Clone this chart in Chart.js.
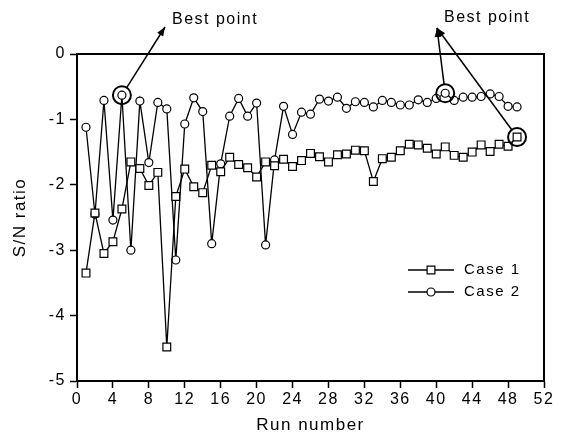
<!DOCTYPE html>
<html>
<head>
<meta charset="utf-8">
<script src="https://cdn.jsdelivr.net/npm/chart.js@4.4.1/dist/chart.umd.min.js"></script>
<style>
    html, body { margin: 0; padding: 0; background: #fff; }
    #wrap { width: 568px; height: 442px; }
</style>
</head>
<body>
<div id="wrap"><canvas id="snChart" width="568" height="442"></canvas></div>
<script>
// Run numbers on the x axis
const runs = [1, 2, 3, 4, 5, 6, 7, 8, 9, 10, 11, 12, 13, 14, 15, 16, 17, 18, 19, 20,
    21, 22, 23, 24, 25, 26, 27, 28, 29, 30, 31, 32, 33, 34, 35, 36, 37, 38, 39, 40,
    41, 42, 43, 44, 45, 46, 47, 48, 49];

// S/N ratio, Case 1 (squares)
const case1 = [-3.35, -2.43, -3.05, -2.87, -2.37, -1.65, -1.75, -2.01, -1.81, -4.48,
    -2.18, -1.76, -2.03, -2.12, -1.70, -1.80, -1.58, -1.69, -1.74, -1.88,
    -1.65, -1.71, -1.61, -1.72, -1.63, -1.52, -1.57, -1.65, -1.54, -1.53,
    -1.47, -1.48, -1.95, -1.60, -1.58, -1.48, -1.38, -1.39, -1.44, -1.53,
    -1.42, -1.55, -1.58, -1.50, -1.39, -1.49, -1.38, -1.41, -1.27];

// S/N ratio, Case 2 (circles)
const case2 = [-1.12, -2.45, -0.71, -2.54, -0.63, -3.00, -0.72, -1.66, -0.74, -0.84,
    -3.15, -1.07, -0.67, -0.88, -2.90, -1.68, -0.95, -0.68, -0.95, -0.75,
    -2.92, -1.62, -0.80, -1.23, -0.89, -0.92, -0.69, -0.72, -0.66, -0.83,
    -0.73, -0.74, -0.81, -0.71, -0.74, -0.78, -0.78, -0.70, -0.74, -0.68,
    -0.60, -0.71, -0.66, -0.66, -0.65, -0.61, -0.65, -0.80, -0.81];

const seriesNames = ['Case 1', 'Case 2'];
const xTicks = [0, 4, 8, 12, 16, 20, 24, 28, 32, 36, 40, 44, 48, 52];
const yTicks = [-5, -4, -3, -2, -1, 0];

// highlighted "best" points: [series index, run]
const bestPoints = [[1, 5], [1, 41], [0, 49]];

const FONT = '"Liberation Sans", Arial, Helvetica, sans-serif';
const INK = '#000';

function toXY(values) {
    return runs.map((r, i) => ({ x: r, y: values[i] }));
}

// keep the wide, typewriter-ish spacing of the original lettering
const spacingPlugin = {
    id: 'spacing',
    beforeUpdate(chart) { chart.ctx.letterSpacing = '1.5px'; },
    beforeDraw(chart) { chart.ctx.letterSpacing = '1.5px'; }
};

const framePlugin = {
    id: 'frame',
    afterDatasetsDraw(chart) {
        const { ctx, chartArea: a } = chart;
        ctx.save();
        ctx.strokeStyle = INK;
        ctx.lineWidth = 2;
        ctx.strokeRect(a.left, a.top, a.right - a.left, a.bottom - a.top);
        ctx.restore();
    }
};

function arrow(ctx, x0, y0, x1, y1) {
    const ang = Math.atan2(y1 - y0, x1 - x0);
    ctx.beginPath();
    ctx.moveTo(x0, y0);
    ctx.lineTo(x1, y1);
    ctx.stroke();
    const L = 9, W = 3.5;
    ctx.beginPath();
    ctx.moveTo(x1, y1);
    ctx.lineTo(x1 - L * Math.cos(ang) + W * Math.sin(ang), y1 - L * Math.sin(ang) - W * Math.cos(ang));
    ctx.lineTo(x1 - L * Math.cos(ang) - W * Math.sin(ang), y1 - L * Math.sin(ang) + W * Math.cos(ang));
    ctx.closePath();
    ctx.fill();
}

const bestPlugin = {
    id: 'best',
    afterDatasetsDraw(chart) {
        const { ctx } = chart;
        const xs = chart.scales.x, ys = chart.scales.y;
        const series = [case1, case2];
        const rings = bestPoints.map(([s, run]) => ({
            x: xs.getPixelForValue(run),
            y: ys.getPixelForValue(series[s][runs.indexOf(run)]),
            r: 9
        }));
        ctx.save();
        ctx.strokeStyle = INK;
        ctx.fillStyle = INK;
        ctx.lineWidth = 2;
        rings.forEach(p => {
            ctx.beginPath();
            ctx.arc(p.x, p.y, p.r, 0, Math.PI * 2);
            ctx.stroke();
        });

        ctx.font = '16px ' + FONT;
        ctx.textAlign = 'left';
        ctx.textBaseline = 'middle';
        ctx.fillText('Best point', 172, 20);
        ctx.fillText('Best point', 444, 18);

        ctx.lineWidth = 1.5;
        const tips = [[165, 27], [437, 28], [437, 28]];
        rings.forEach((p, i) => {
            const [tx, ty] = tips[i];
            const d = Math.hypot(tx - p.x, ty - p.y);
            const sx = p.x + (tx - p.x) / d * p.r;
            const sy = p.y + (ty - p.y) / d * p.r;
            arrow(ctx, sx, sy, tx, ty);
        });
        ctx.restore();
    }
};

const legendPlugin = {
    id: 'boxLegend',
    afterDatasetsDraw(chart) {
        const { ctx } = chart;
        const rows = [[408, 270], [408, 292]];
        ctx.save();
        chart.data.datasets.forEach((ds, i) => {
            const [lx, ly] = rows[i];
            ctx.strokeStyle = INK;
            ctx.lineWidth = 1.3;
            ctx.beginPath();
            ctx.moveTo(lx, ly);
            ctx.lineTo(lx + 46, ly);
            ctx.stroke();
            ctx.fillStyle = '#fff';
            ctx.lineWidth = 1.2;
            Chart.helpers.drawPoint(ctx, {
                pointStyle: ds.pointStyle,
                radius: ds.pointRadius,
                borderWidth: 1.2
            }, lx + 23, ly);
            ctx.fillStyle = INK;
            ctx.font = '15px ' + FONT;
            ctx.textAlign = 'left';
            ctx.textBaseline = 'middle';
            ctx.fillText(ds.label, lx + 56, ly);
        });
        ctx.restore();
    }
};

new Chart(document.getElementById('snChart'), {
    type: 'line',
    data: {
        datasets: [
            {
                label: seriesNames[0],
                data: toXY(case1),
                borderColor: INK,
                borderWidth: 1.3,
                pointStyle: 'rect',
                pointRadius: 5.5,
                pointBackgroundColor: '#fff',
                pointBorderColor: INK,
                pointBorderWidth: 1.2,
                tension: 0
            },
            {
                label: seriesNames[1],
                data: toXY(case2),
                borderColor: INK,
                borderWidth: 1.3,
                pointStyle: 'circle',
                pointRadius: 4,
                pointBackgroundColor: '#fff',
                pointBorderColor: INK,
                pointBorderWidth: 1.2,
                tension: 0
            }
        ]
    },
    options: {
        responsive: false,
        animation: false,
        events: [],
        layout: { padding: { top: 54, right: 24, left: 0, bottom: 0 } },
        plugins: {
            legend: { display: false },
            tooltip: { enabled: false }
        },
        scales: {
            x: {
                type: 'linear',
                min: 0,
                max: 52,
                afterBuildTicks: (scale) => { scale.ticks = xTicks.map(v => ({ value: v })); },
                afterFit: (scale) => { scale.height = 61; },
                ticks: { color: INK, font: { family: FONT, size: 16 }, padding: 2, maxRotation: 0 },
                grid: { drawOnChartArea: false, tickLength: 7, color: INK, tickWidth: 1.5 },
                border: { color: INK, width: 2 },
                title: {
                    display: true,
                    text: 'Run number',
                    color: INK,
                    font: { family: FONT, size: 17 },
                    padding: { top: 2, bottom: 6 }
                }
            },
            y: {
                min: -5,
                max: 0,
                afterBuildTicks: (scale) => { scale.ticks = yTicks.map(v => ({ value: v })); },
                afterFit: (scale) => { scale.width = 77; },
                ticks: { color: INK, font: { family: FONT, size: 16 }, padding: 4 },
                grid: { drawOnChartArea: false, tickLength: 7, color: INK, tickWidth: 1.5 },
                border: { color: INK, width: 2 },
                title: {
                    display: true,
                    text: 'S/N ratio',
                    color: INK,
                    font: { family: FONT, size: 17 },
                    padding: { top: 10, bottom: 4 }
                }
            }
        }
    },
    plugins: [spacingPlugin, framePlugin, bestPlugin, legendPlugin]
});
</script>
</body>
</html>
